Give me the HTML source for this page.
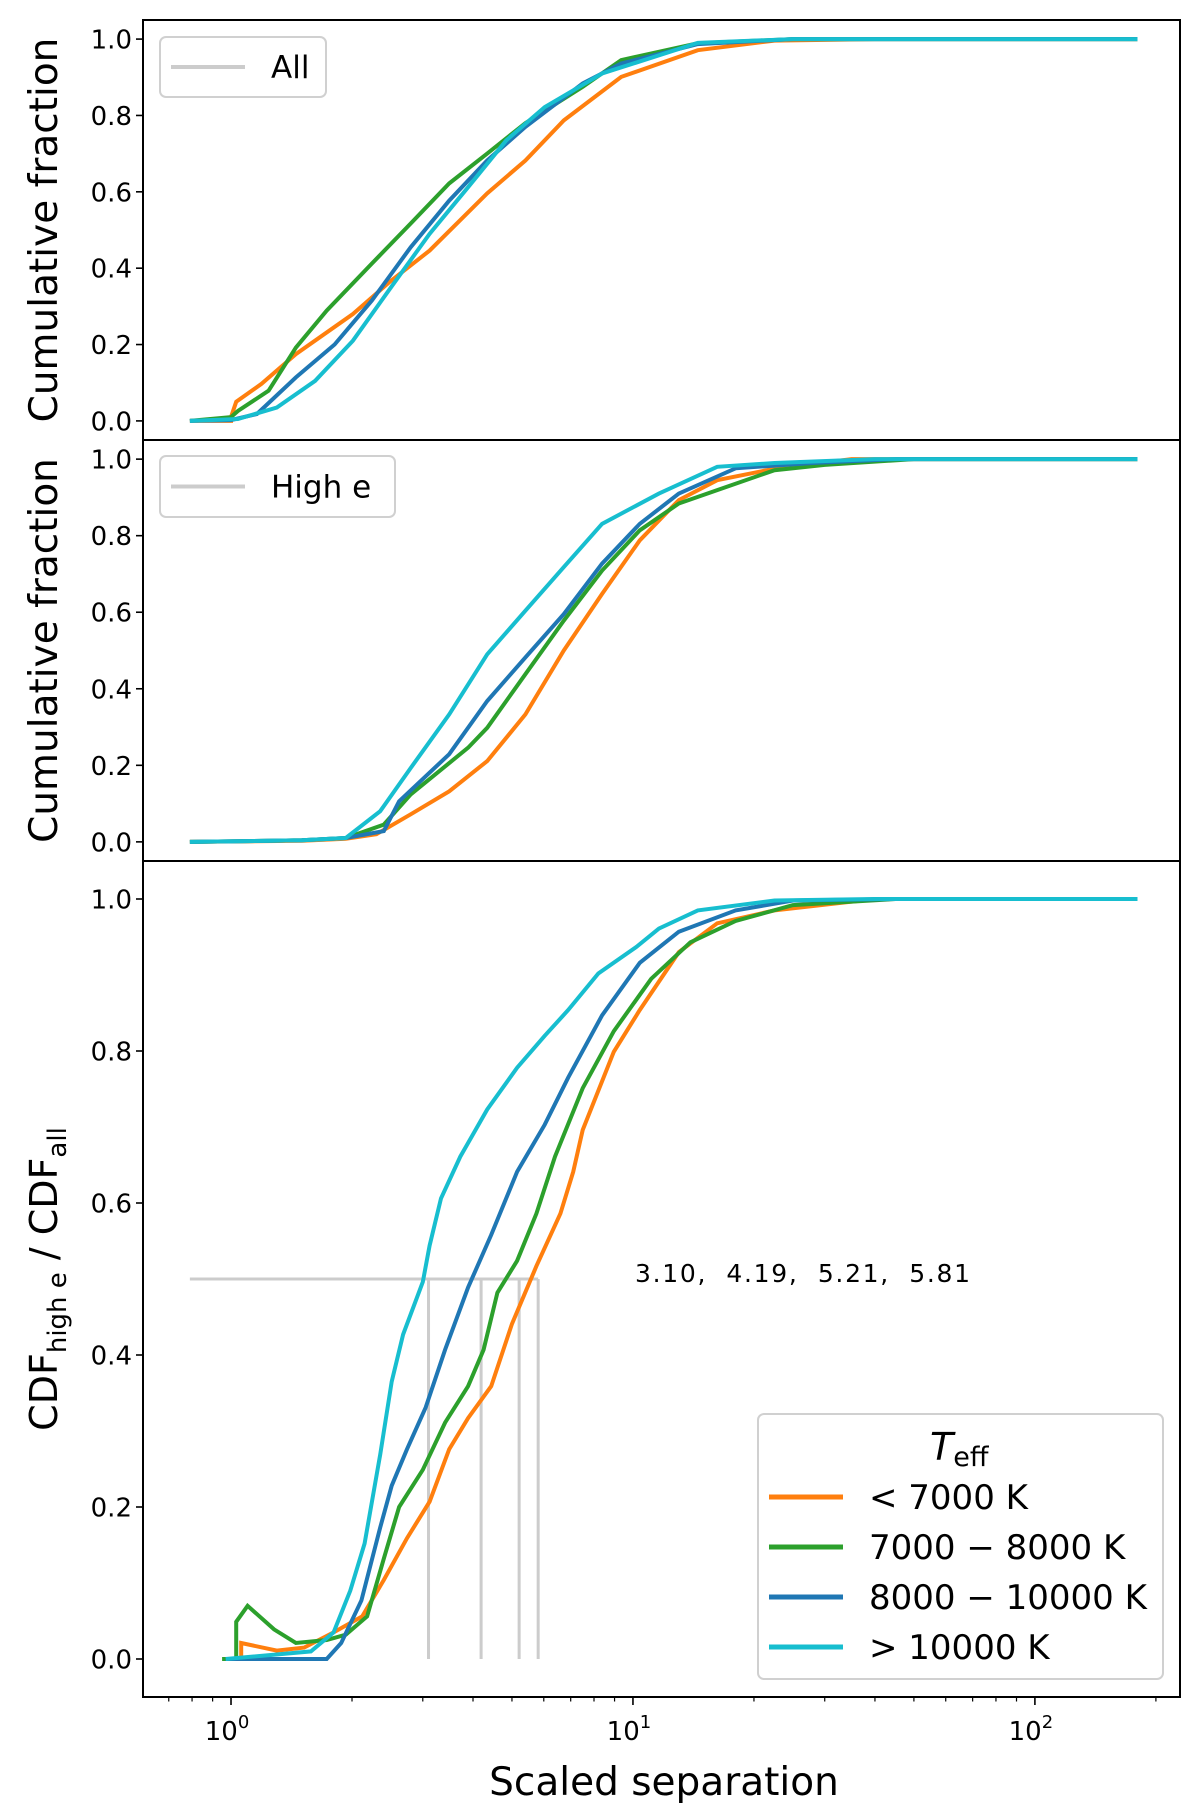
<!DOCTYPE html>
<html><head><meta charset="utf-8">
<style>
html,body{margin:0;padding:0;background:#fff;}
svg{display:block;font-family:"DejaVu Sans","Liberation Sans",sans-serif;}
text{white-space:pre;}
</style></head>
<body>
<svg id="chart" width="1200" height="1817" viewBox="0 0 1200 1817" xmlns="http://www.w3.org/2000/svg">
<g id="panels"></g>
</svg>
<script>
// ---- data ----
const seriesNames = ["< 7000 K","7000 \u2212 8000 K","8000 \u2212 10000 K","> 10000 K"];
const seriesColors = ["#ff7f0e","#2ca02c","#1f77b4","#17becf"];
const yTicks = [0.0,0.2,0.4,0.6,0.8,1.0];
const yTickLabels = ["0.0","0.2","0.4","0.6","0.8","1.0"];
const xMajorTicks = [1,10,100];
const xMajorExps = ["0","1","2"];
const medianValues = [3.10,4.19,5.21,5.81];
const medianLabel = "3.10,  4.19,  5.21,  5.81";

// Top panel (All)
const allOrangeX = [0.79,1.0,1.0,1.03,1.19,1.45,2.01,2.5,3.12,4.34,5.4,6.73,9.35,14.5,22.5,40,180];
const allOrangeY = [0,0,0.01,0.05,0.097,0.175,0.28,0.367,0.446,0.596,0.682,0.787,0.901,0.971,0.996,1,1];
const allGreenX = [0.79,1.0,1.04,1.24,1.45,1.73,2.24,2.8,3.49,4.34,5.4,7.5,9.35,14.5,25,180];
const allGreenY = [0,0.01,0.026,0.079,0.192,0.289,0.412,0.517,0.622,0.70,0.78,0.875,0.945,0.989,1,1];
const allBlueX = [0.79,1.0,1.16,1.45,1.81,2.24,2.8,3.49,4.34,5.4,7.5,9.35,14.5,25,180];
const allBlueY = [0,0.002,0.018,0.114,0.2,0.315,0.455,0.577,0.682,0.77,0.884,0.936,0.987,1,1];
const allCyanX = [0.79,1.04,1.3,1.62,2.01,2.5,3.12,3.89,4.84,6.03,8.38,14.5,25,180];
const allCyanY = [0,0.005,0.035,0.105,0.21,0.35,0.49,0.612,0.735,0.822,0.91,0.99,1,1];

// Middle panel (High e)
const hiOrangeX = [0.79,1.5,1.93,2.3,2.8,3.49,4.34,5.4,6.73,8.38,10.4,13,16.2,22.5,35,180];
const hiOrangeY = [0,0.003,0.008,0.02,0.072,0.132,0.211,0.333,0.5,0.648,0.788,0.893,0.945,0.975,1,1];
const hiGreenX = [0.79,1.5,1.93,2.4,2.8,3.89,4.34,5.4,6.73,8.38,10.4,13,16.2,22.5,30,50,180];
const hiGreenY = [0,0.004,0.01,0.045,0.124,0.246,0.298,0.438,0.578,0.709,0.814,0.884,0.919,0.971,0.985,1,1];
const hiBlueX = [0.79,1.5,1.93,2.4,2.62,3.49,4.34,5.4,6.73,8.38,10.4,13,18,28,45,180];
const hiBlueY = [0,0.004,0.01,0.028,0.106,0.229,0.368,0.482,0.595,0.727,0.831,0.91,0.976,0.99,1,1];
const hiCyanX = [0.79,1.5,1.93,2.35,2.8,3.49,4.34,5.4,6.73,8.38,11.6,16.2,22.5,40,180];
const hiCyanY = [0,0.004,0.01,0.08,0.193,0.333,0.49,0.604,0.718,0.831,0.91,0.98,0.99,1,1];

// Bottom panel (ratio)
const rOrangeX = [0.97,1.06,1.06,1.3,1.52,1.8,2.12,2.4,2.74,3.12,3.49,3.89,4.44,5.0,5.75,6.6,7.1,7.5,8.96,10.4,13,16.2,22.5,40,180];
const rOrangeY = [0,0,0.021,0.011,0.015,0.035,0.056,0.104,0.159,0.207,0.276,0.317,0.359,0.441,0.517,0.586,0.641,0.696,0.799,0.854,0.93,0.968,0.985,1,1];
const rGreenX = [0.95,1.03,1.03,1.1,1.28,1.45,1.73,1.93,2.18,2.4,2.62,3.0,3.41,3.89,4.25,4.6,5.15,5.75,6.4,7.5,8.96,11.1,13.9,18,25,45,180];
const rGreenY = [0,0,0.049,0.070,0.039,0.021,0.025,0.032,0.056,0.132,0.2,0.249,0.311,0.359,0.407,0.482,0.524,0.586,0.661,0.751,0.826,0.895,0.943,0.971,0.992,1,1];
const rBlueX = [0.97,1.73,1.88,2.11,2.35,2.51,2.74,3.05,3.41,3.89,4.44,5.15,6.03,6.9,8.38,10.4,13,18,25,45,180];
const rBlueY = [0,0,0.021,0.077,0.173,0.228,0.276,0.331,0.407,0.489,0.558,0.641,0.703,0.765,0.847,0.916,0.957,0.985,0.998,1,1];
const rCyanX = [0.97,1.58,1.8,1.98,2.15,2.35,2.51,2.68,3.0,3.12,3.33,3.72,4.34,5.15,6.03,6.9,8.2,10.2,11.6,14.5,22.5,40,180];
const rCyanY = [0,0.01,0.035,0.09,0.152,0.269,0.365,0.427,0.496,0.544,0.606,0.661,0.723,0.778,0.82,0.854,0.902,0.937,0.961,0.985,0.998,1,1];

// ---- layout ----
const NS="http://www.w3.org/2000/svg";
const AX_L=143, AX_R=1180;
const LOG_MIN=Math.log10(0.604), LOG_MAX=2.361;
function xScale(v){return AX_L+(Math.log10(v)-LOG_MIN)/(LOG_MAX-LOG_MIN)*(AX_R-AX_L);}
function makeY(top,bottom){return v=>bottom-(v+0.05)/1.1*(bottom-top);}
const root=document.getElementById('panels');
function el(tag,attrs,parent){const e=document.createElementNS(NS,tag);for(const k in attrs)e.setAttribute(k,attrs[k]);(parent||root).appendChild(e);return e;}

const panels=[
 {name:"all",top:20,bottom:440,xs:[allOrangeX,allGreenX,allBlueX,allCyanX],ys:[allOrangeY,allGreenY,allBlueY,allCyanY],ylabel:"Cumulative fraction"},
 {name:"high-e",top:440,bottom:861,xs:[hiOrangeX,hiGreenX,hiBlueX,hiCyanX],ys:[hiOrangeY,hiGreenY,hiBlueY,hiCyanY],ylabel:"Cumulative fraction"},
 {name:"ratio",top:861,bottom:1697,xs:[rOrangeX,rGreenX,rBlueX,rCyanX],ys:[rOrangeY,rGreenY,rBlueY,rCyanY],ylabel:null}
];

panels.forEach((p,pi)=>{
  const yS=makeY(p.top,p.bottom);
  const g=el('g',{});
  
  
  yTicks.forEach((t,i)=>{
    const y=yS(t);
    const tk=el('line',{x1:AX_L-7,x2:AX_L,y1:y,y2:y,stroke:'#000','stroke-width':1.6},g);
    
    
    const tl=el('text',{x:AX_L-11,y:y+9.5,'text-anchor':'end','font-size':26,fill:'#000'},g);
    tl.textContent=yTickLabels[i];
    
    
  });
  if(pi===2){
    const hl=el('line',{x1:xScale(0.79),x2:xScale(medianValues[3]),y1:yS(0.5),y2:yS(0.5),stroke:'#cccccc','stroke-width':3},g);
    
    
    medianValues.forEach(m=>{
      const vl=el('line',{x1:xScale(m),x2:xScale(m),y1:yS(0),y2:yS(0.5),stroke:'#cccccc','stroke-width':3},g);
      
      
    });
    const at=el('text',{x:635,y:1282,'font-size':25,fill:'#000',textLength:335,lengthAdjust:'spacing'},g);
    at.textContent=medianLabel;
    
    
  }
  p.xs.forEach((xs,si)=>{
    const ys=p.ys[si];
    const pts=xs.map((x,i)=>xScale(x).toFixed(1)+','+yS(ys[i]).toFixed(1)).join(' ');
    const pl=el('polyline',{points:pts,fill:'none',stroke:seriesColors[si],'stroke-width':4,'stroke-linejoin':'miter'},g);
    
    
  });
  const fr=el('rect',{x:AX_L,y:p.top,width:AX_R-AX_L,height:p.bottom-p.top,fill:'none',stroke:'#000','stroke-width':2},g);
  
  
  if(p.ylabel){
    const cy=(p.top+p.bottom)/2;
    const yl=el('text',{x:57,y:cy,'text-anchor':'middle','font-size':39,fill:'#000',transform:'rotate(-90 57 '+cy+')'},g);
    yl.textContent=p.ylabel;
    
    
  }
});

const xb=1697;
for(let d=-1;d<=2;d++){
  for(let m=1;m<=9;m++){
    const v=m*Math.pow(10,d);
    const lx=Math.log10(v);
    if(lx<LOG_MIN||lx>LOG_MAX)continue;
    const x=xScale(v);
    const major=(m===1);
    const t=el('line',{x1:x,x2:x,y1:xb,y2:xb+(major?8:4.5),stroke:'#000','stroke-width':major?1.6:1.2});
    
    
  }
}
xMajorTicks.forEach((v,i)=>{
  const x=xScale(v);
  const t=el('text',{x:x-4,y:1740,'text-anchor':'middle','font-size':26,fill:'#000'});
  t.textContent='10';
  const s=el('tspan',{dy:-12,'font-size':18},t);
  s.textContent=xMajorExps[i];
  
  
});
const xt=el('text',{x:664,y:1795,'text-anchor':'middle','font-size':39,fill:'#000'});
xt.textContent='Scaled separation';



const by=el('text',{x:0,y:0,'font-size':38,fill:'#000','text-anchor':'middle',transform:'translate(57 1279) rotate(-90)'});
by.innerHTML='CDF<tspan font-size="26" dy="9">high e</tspan><tspan dy="-9"> / CDF</tspan><tspan font-size="26" dy="9">all</tspan>';



function smallLegend(x,y,w,h,label,name){
  const g=el('g',{});
  
  
  el('rect',{x:x,y:y,width:w,height:h,rx:6,fill:'#fff','fill-opacity':0.8,stroke:'#d0d0d0','stroke-width':2},g);
  el('line',{x1:x+11,x2:x+85,y1:y+h/2,y2:y+h/2,stroke:'#cccccc','stroke-width':4},g);
  const t=el('text',{x:x+111,y:y+h/2+11,'font-size':31,fill:'#000'},g);
  t.textContent=label;
}
smallLegend(160,37,166,60,'All','legend-all');
smallLegend(160,456,235,61,'High e','legend-high-e');

const lg=el('g',{});


el('rect',{x:758,y:1414,width:405,height:265,rx:6,fill:'#fff','fill-opacity':0.8,stroke:'#d0d0d0','stroke-width':2},lg);
const lt=el('text',{x:930,y:1460,'font-size':38,fill:'#000','font-style':'italic'},lg);
lt.innerHTML='T<tspan font-style="normal" font-size="27" dy="6">eff</tspan>';
seriesNames.forEach((n,i)=>{
  const y=1497+i*50;
  const ln=el('line',{x1:769,x2:843,y1:y,y2:y,stroke:seriesColors[i],'stroke-width':5},lg);
  
  
  const tx=el('text',{x:869,y:y+12,'font-size':34,fill:'#000'},lg);
  tx.textContent=n;
  
  
});
</script>
</body></html>
